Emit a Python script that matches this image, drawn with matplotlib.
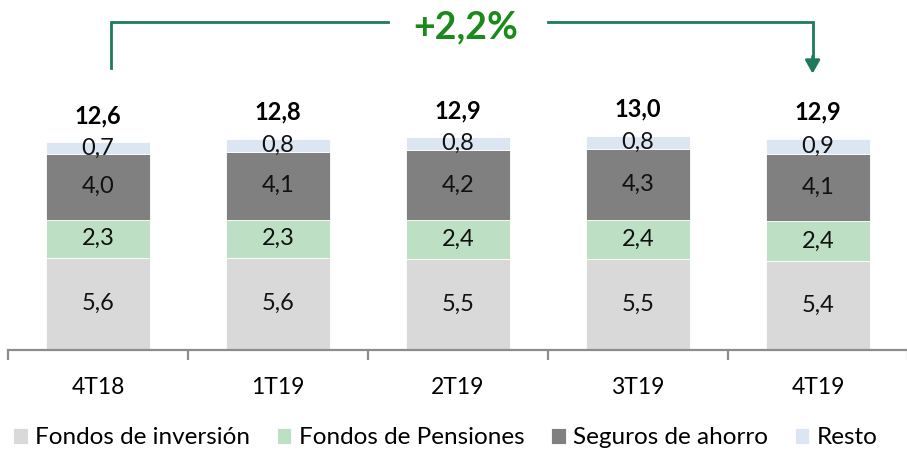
import numpy as np
import matplotlib
matplotlib.use("Agg")
import matplotlib.pyplot as plt

plt.rcParams['font.family'] = ['Lato', 'DejaVu Sans']

quarters = ["4T18", "1T19", "2T19", "3T19", "4T19"]
fondos_inversion = [5.6, 5.6, 5.5, 5.5, 5.4]
fondos_pensiones = [2.3, 2.3, 2.4, 2.4, 2.4]
seguros_ahorro = [4.0, 4.1, 4.2, 4.3, 4.1]
resto = [0.7, 0.8, 0.8, 0.8, 0.9]
totals = [12.6, 12.8, 12.9, 13.0, 12.9]
growth_label = "+2,2%"

series = [
    ("Fondos de inversión", fondos_inversion, "#d9d9d9"),
    ("Fondos de Pensiones", fondos_pensiones, "#bde0c4"),
    ("Seguros de ahorro", seguros_ahorro, "#808080"),
    ("Resto", resto, "#dce6f2"),
]


def fmt(v):
    return ("%.1f" % v).replace(".", ",")


fig = plt.figure(figsize=(9.07, 4.5), dpi=100)
ax = fig.add_axes([8 / 907, 100 / 450, 900 / 907, 350 / 450])

x = np.arange(len(quarters))
bottom = np.zeros(len(quarters))
for name, vals, col in series:
    vals = np.array(vals)
    ax.bar(x, vals, 0.58, bottom=bottom, color=col, label=name,
           edgecolor="white", linewidth=0.6)
    for xi, b, v in zip(x, bottom, vals):
        ax.text(xi, b + v / 2, fmt(v), ha="center", va="center",
                fontsize=17, color="#111111")
    bottom += vals

for xi, top, t in zip(x, bottom, totals):
    ax.annotate(fmt(t), (xi, top), xytext=(0, 19), textcoords="offset points",
                ha="center", va="center", fontsize=17, fontweight="bold")

# bracket with growth label
line_col = "#1e7b5a"
y_top = 19.9
xl, xr = x[0] + 0.07, x[-1] - 0.03
ax.plot([xl, xl, 1.61], [17.1, y_top, y_top], color=line_col, lw=2,
        solid_joinstyle="miter", clip_on=False)
ax.plot([2.5, xr, xr], [y_top, y_top, 17.6], color=line_col, lw=2,
        solid_joinstyle="miter", clip_on=False)
ax.annotate("", xy=(xr, 16.75), xytext=(xr, 17.8),
            arrowprops=dict(arrowstyle="-|>,head_length=0.8,head_width=0.45",
                            color=line_col, lw=2, shrinkA=0, shrinkB=0))
ax.text(2.04, 19.55, growth_label, ha="center", va="center", fontsize=27,
        fontweight="bold", color="#1a8a1a")

ax.set_xlim(-0.5, len(quarters) - 0.5)
ax.set_ylim(0, 350 / 16.5)
for s in ["top", "right", "left"]:
    ax.spines[s].set_visible(False)
ax.spines["bottom"].set_color("#8c8c8c")
ax.spines["bottom"].set_linewidth(1.6)
ax.set_yticks([])
ax.set_xticks(np.arange(-0.5, len(quarters)), minor=False)
ax.set_xticklabels([])
ax.tick_params(axis="x", length=7, width=1.6, color="#8c8c8c")
for xi, q in zip(x, quarters):
    ax.annotate(q, (xi, 0), xytext=(0, -27), textcoords="offset points",
                ha="center", va="center", fontsize=16.5)

fig.legend(loc="center", bbox_to_anchor=(0.491, 12 / 450),
           ncol=4, frameon=False, fontsize=17.5, handlelength=0.6,
           handleheight=0.6, handletextpad=0.3, columnspacing=1.1,
           borderaxespad=0)

fig.savefig("out.png", dpi=100)
